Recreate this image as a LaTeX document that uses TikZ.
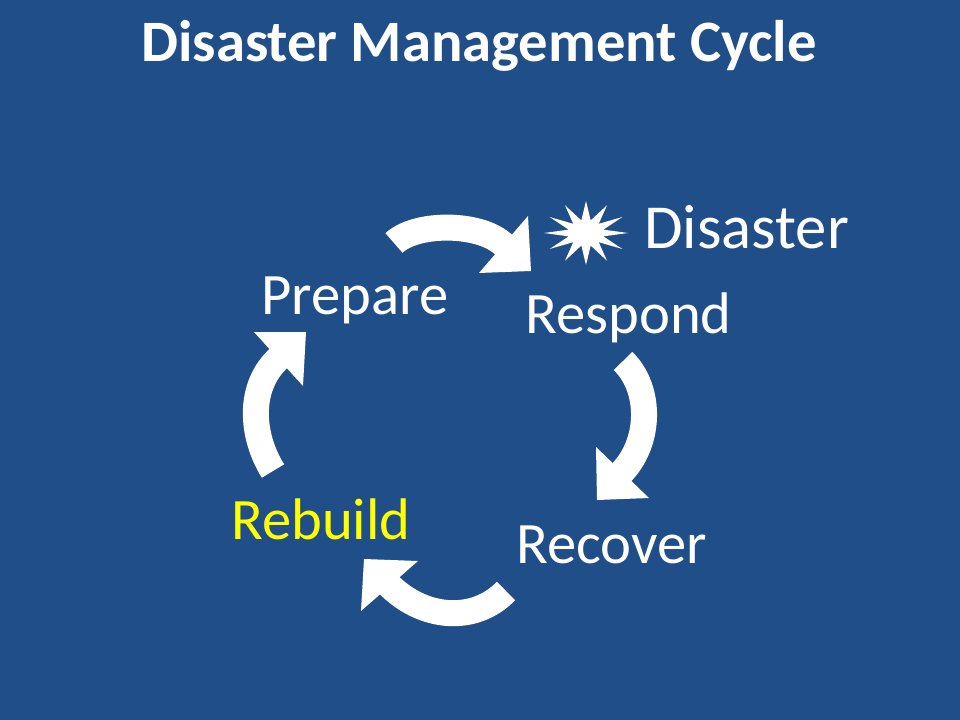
\documentclass[tikz,border=0pt]{standalone}
\usepackage{fontspec}
\setmainfont{Carlito}
\definecolor{slidebg}{RGB}{32,78,137}
\definecolor{rebuildyellow}{RGB}{255,255,0}
\tikzset{
  shaft/.style={draw=white, line width=19.5pt, line cap=butt},
  headtri/.style={fill=white, draw=none},
  lbl/.style={text=white, font=\fontsize{44}{52}\selectfont, anchor=base west, inner sep=0pt},
  ttl/.style={text=white, font=\bfseries\fontsize{44}{52}\selectfont, anchor=base, inner sep=0pt}
}
\begin{document}
\begin{tikzpicture}[x=0.75pt,y=-0.75pt]
\fill[slidebg] (0,0) rectangle (960,720);
\useasboundingbox (0,0) rectangle (960,720);

\node[ttl] (title) at (479,62) {Disaster Management Cycle};

\node[lbl] (prepare) at (261,315) {Prepare};
\node[lbl] (respond) at (525,333) {Respond};
\node[lbl] (recover) at (516,563) {Recover};
\node[lbl, text=rebuildyellow] (rebuild) at (231,539) {Rebuild};
\node[lbl, font=\fontsize{47}{55}\selectfont] (disaster) at (644,249) {Disaster};

% starburst
\coordinate (burst) at (586,233);
\fill[white, shift={(burst)}] (0:42 and 31)
  \foreach \k in {1,...,23} {
    -- ({\k*15}:{ifthenelse(isodd(\k),18,42)} and {ifthenelse(isodd(\k),13,32)})
  } -- cycle;

% top arrow: Prepare -> Respond
\coordinate (tA) at (394,243);
\coordinate (eA) at (505,246);
\draw[shaft] (tA) .. controls (416,222) and (482,222) .. (eA);
\coordinate (hA1) at (479,273);
\coordinate (hA2) at (528,216);
\coordinate (pA) at (531,271);
\fill[headtri] (hA1) -- (hA2) -- (pA) -- cycle;

% right arrow: Respond -> Recover
\coordinate (tB) at (623,361);
\coordinate (eB) at (620,474);
\draw[shaft] (tB) .. controls (652,389) and (651,444) .. (eB);
\coordinate (hB1) at (596,447);
\coordinate (hB2) at (649,498);
\coordinate (pB) at (597,500);
\fill[headtri] (hB1) -- (hB2) -- (pB) -- cycle;

% bottom arrow: Recover -> Rebuild
\coordinate (tC) at (506,591);
\coordinate (eC) at (388,584);
\draw[shaft] (tC) .. controls (474,624) and (422,619) .. (eC);
\coordinate (hC1) at (418,561);
\coordinate (hC2) at (361,611);
\coordinate (pC) at (364,559);
\fill[headtri] (hC1) -- (hC2) -- (pC) -- cycle;

% left arrow: Rebuild -> Prepare
\coordinate (tD) at (273,471);
\coordinate (eD) at (280,357);
\draw[shaft] (tD) .. controls (251,436) and (247,386) .. (eD);
\coordinate (hD1) at (254,332);
\coordinate (hD2) at (303,386);
\coordinate (pD) at (306,332);
\fill[headtri] (hD1) -- (hD2) -- (pD) -- cycle;
\end{tikzpicture}
\end{document}
